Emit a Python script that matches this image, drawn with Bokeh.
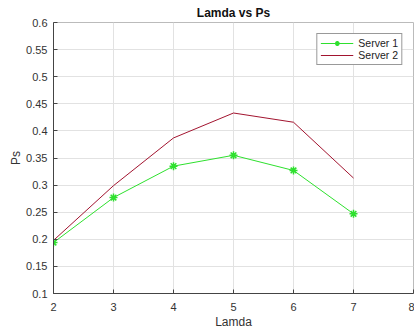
from bokeh.plotting import figure
from bokeh.models import ColumnDataSource, Legend, LegendItem, FixedTicker, Range1d
from bokeh.embed import file_html
from bokeh.resources import INLINE

lamda = [2, 3, 4, 5, 6, 7]
server1 = [0.194, 0.277, 0.335, 0.355, 0.327, 0.247]
server2 = [0.198, 0.299, 0.387, 0.433, 0.416, 0.313]
x_ticks = [2, 3, 4, 5, 6, 7, 8]
y_ticks = [0.1, 0.15, 0.2, 0.25, 0.3, 0.35, 0.4, 0.45, 0.5, 0.55, 0.6]

FONT = "Liberation Sans"
TXT = "#333333"

p = figure(width=414, height=331, output_backend="svg", toolbar_location=None,
           x_range=Range1d(2, 8), y_range=Range1d(0.1, 0.6),
           min_border_left=53, min_border_right=1, min_border_top=22, min_border_bottom=37,
           title="Lamda vs Ps")
p.background_fill_color = "white"
p.border_fill_color = "white"
p.outline_line_color = "#bbbbbb"
p.outline_line_width = 1

p.title.align = "center"
p.title.text_font = FONT
p.title.text_font_size = "12px"
p.title.text_font_style = "bold"
p.title.text_color = "#111111"
p.title.offset = 0
p.title.standoff = 5

for ax in (p.xaxis[0], p.yaxis[0]):
    ax.major_label_text_font = FONT
    ax.major_label_text_font_size = "11px"
    ax.major_label_text_color = TXT
    ax.axis_label_text_font = FONT
    ax.axis_label_text_font_size = "12px"
    ax.axis_label_text_font_style = "normal"
    ax.axis_label_text_color = TXT
    ax.axis_line_color = "#444444"
    ax.major_tick_line_color = "#444444"
    ax.major_tick_in = 4
    ax.major_tick_out = 0
    ax.minor_tick_line_color = None

p.xaxis.ticker = FixedTicker(ticks=x_ticks)
p.yaxis.ticker = FixedTicker(ticks=y_ticks)
p.xaxis.major_label_overrides = {t: str(t) for t in x_ticks}
p.yaxis.major_label_overrides = {t: ("%g" % t) for t in y_ticks}
p.xaxis.axis_label = "Lamda"
p.yaxis.axis_label = "Ps"
p.xaxis.major_label_standoff = 9
p.yaxis.major_label_standoff = 6
p.xaxis.axis_label_standoff = 1
p.yaxis.axis_label_standoff = 0

p.xgrid.grid_line_color = "#e2e2e2"
p.ygrid.grid_line_color = "#e2e2e2"

src = ColumnDataSource(dict(x=lamda, s1=server1, s2=server2))
green = "#2ee02e"
red = "#a2142f"
l1 = p.line("x", "s1", source=src, line_color=green, line_width=1)
m1 = p.scatter("x", "s1", source=src, marker="asterisk", size=8, line_color=green, line_width=1.5)
l2 = p.line("x", "s2", source=src, line_color=red, line_width=1)

legend = Legend(items=[LegendItem(label="Server 1", renderers=[l1, m1]),
                       LegendItem(label="Server 2", renderers=[l2])],
                location="top_right")
legend.label_text_font = FONT
legend.label_text_font_size = "10.5px"
legend.label_text_color = "#222222"
legend.border_line_color = "#333333"
legend.border_line_width = 1
legend.background_fill_color = "white"
legend.background_fill_alpha = 1
legend.glyph_width = 33
legend.glyph_height = 12
legend.label_height = 12
legend.label_standoff = 5
legend.spacing = 0
legend.padding = 3
legend.margin = 11
p.add_layout(legend)

open("out.html", "w").write(file_html(p, INLINE))
